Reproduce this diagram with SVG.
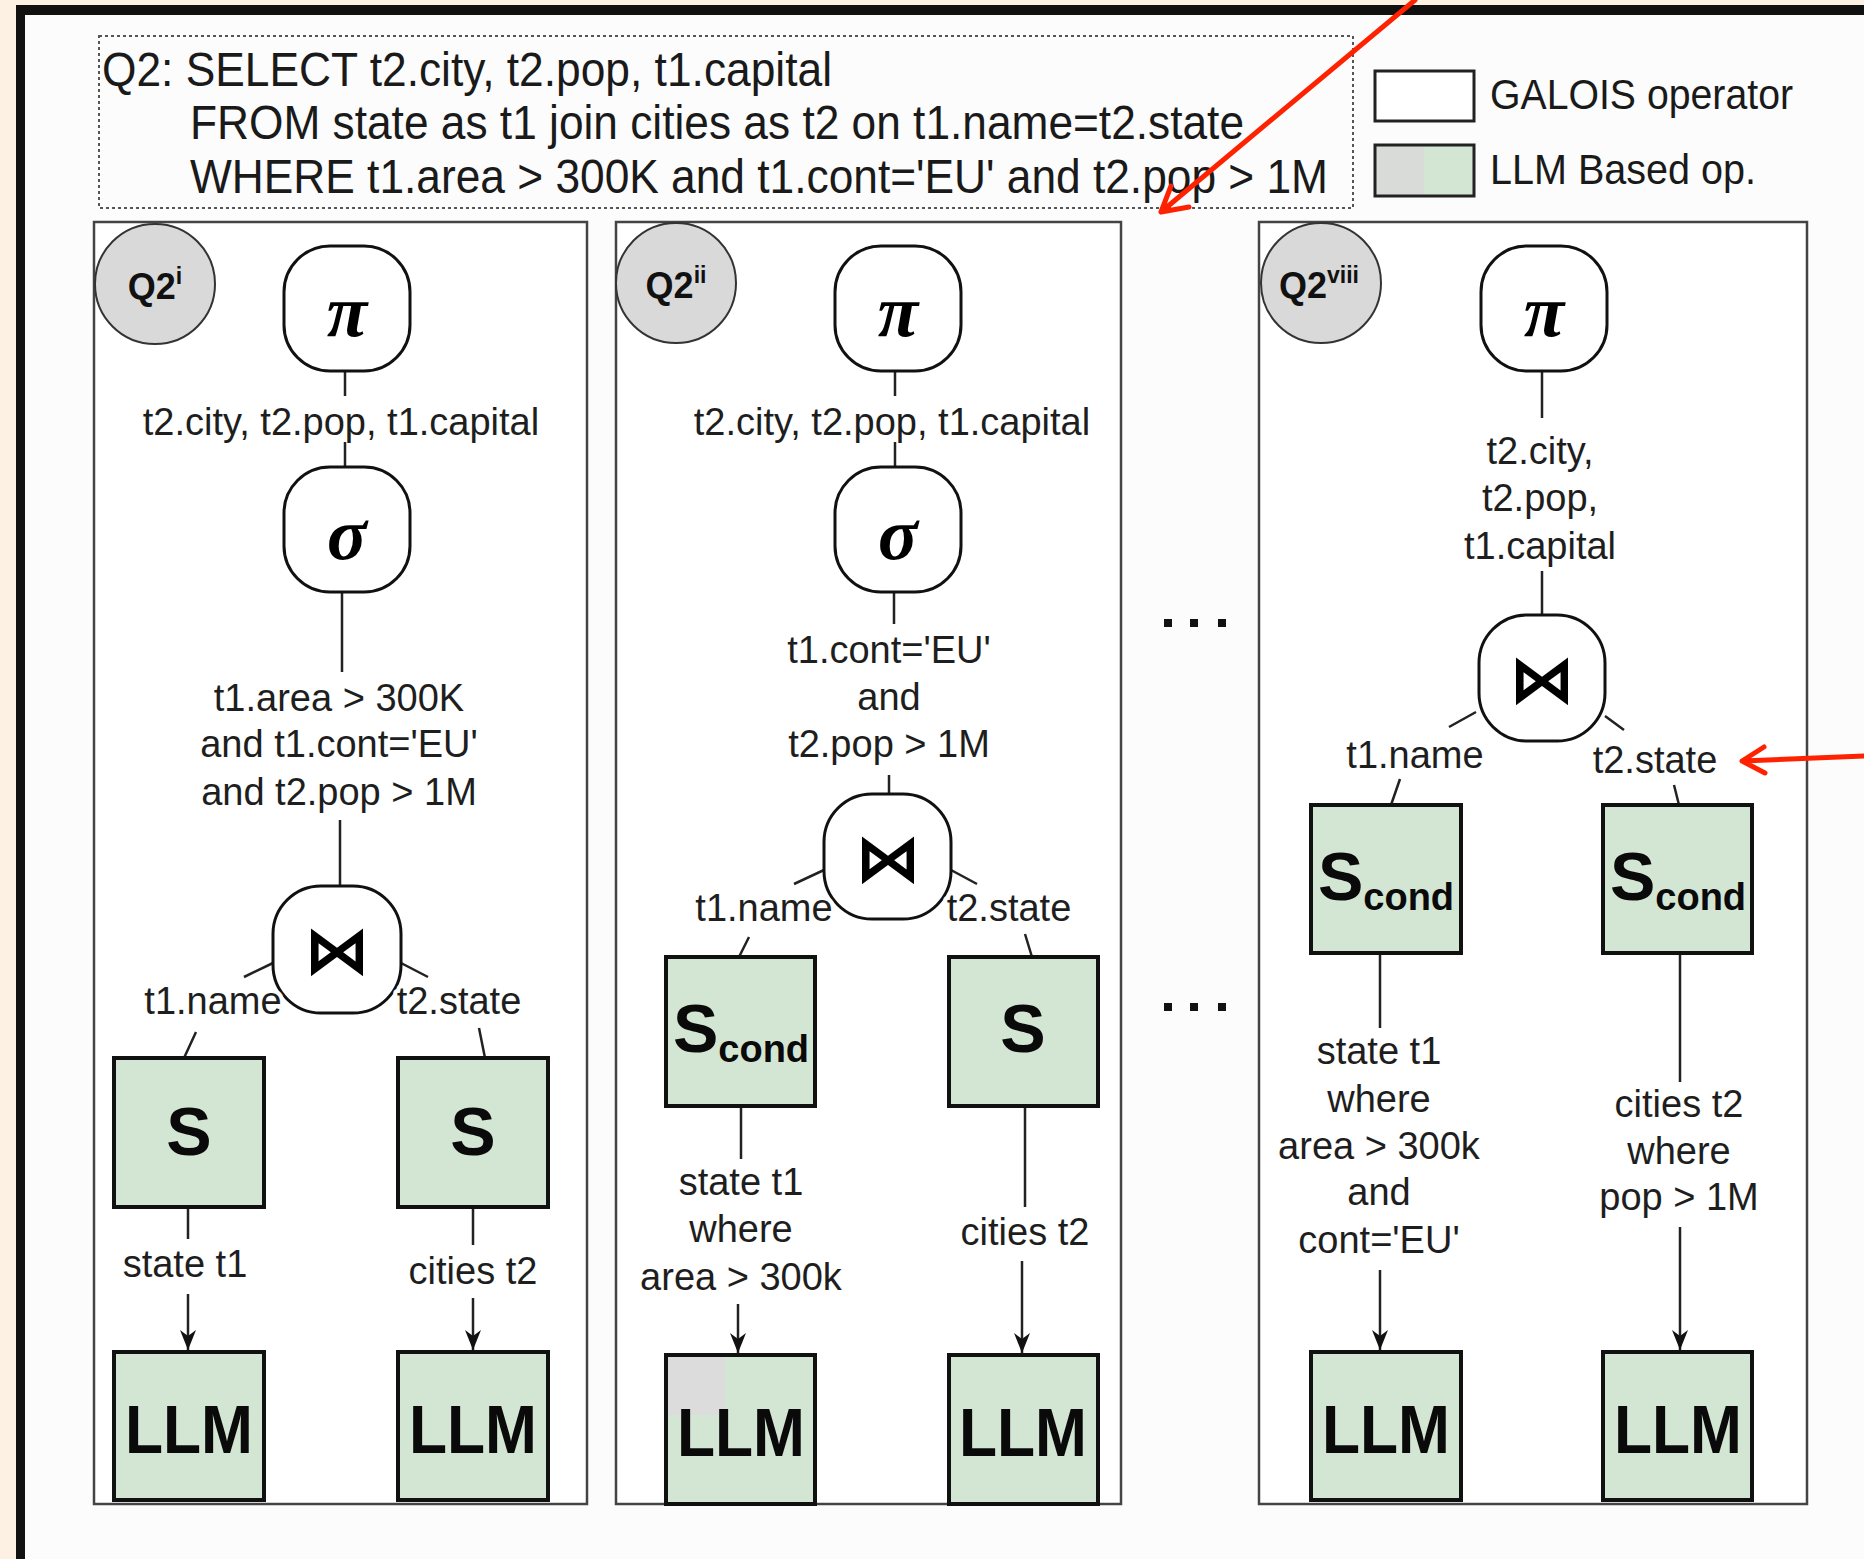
<svg xmlns="http://www.w3.org/2000/svg" width="1864" height="1559" viewBox="0 0 1864 1559">
<defs>
<style>
.lbl{font-family:"Liberation Sans",Arial,sans-serif;font-size:38px;fill:#1e1e1e;text-anchor:middle}
.halo{stroke:#fff;stroke-width:8;paint-order:stroke;stroke-linejoin:round}
.op{fill:#fff;stroke:#111;stroke-width:3}
.llm{fill:#d3e5d3;stroke:#111;stroke-width:4}
.edge{stroke:#222;stroke-width:2.5;fill:none}
.big{font-family:"Liberation Sans",Arial,sans-serif;font-weight:bold;fill:#0a0a0a;text-anchor:middle}
.greek{font-family:"Liberation Serif","DejaVu Serif",serif;font-weight:bold;font-style:italic;font-size:74px;text-anchor:middle;fill:#000}
.join{font-family:"DejaVu Sans",sans-serif;font-weight:bold;font-size:66px;text-anchor:middle;fill:#000}
.panel{fill:#fff;stroke:#444;stroke-width:2.5}
.badge{fill:#d9d9d9;stroke:#333;stroke-width:2}
.bt{font-family:"Liberation Sans",Arial,sans-serif;font-weight:bold;font-size:36px;fill:#111;text-anchor:middle}
.sql{font-family:"Liberation Sans",Arial,sans-serif;font-size:48px;fill:#1a1a1a}
.leg{font-family:"Liberation Sans",Arial,sans-serif;font-size:42px;fill:#1a1a1a}
.red{stroke:#ff2200;stroke-width:5;fill:none;stroke-linecap:round;stroke-linejoin:round}
.dot{fill:#111}
</style>
<marker id="ah" markerUnits="userSpaceOnUse" markerWidth="20" markerHeight="22" refX="9" refY="20" orient="0">
<path d="M1,0 L9,20 L17,0 L9,6 z" fill="#111"/>
</marker>
</defs>

<!-- page background and frame -->
<rect x="0" y="0" width="1864" height="1559" fill="#fcf1e3"/>
<rect x="16" y="5" width="1848" height="1554" fill="#111"/>
<rect x="25" y="15" width="1839" height="1544" fill="#fcfcfc"/>

<!-- query text -->
<g id="query">
<rect x="99" y="36" width="1254" height="172" fill="none" stroke="#555" stroke-width="2" stroke-dasharray="3 3"/>
<text class="sql" x="102" y="86" textLength="730" lengthAdjust="spacingAndGlyphs">Q2: SELECT t2.city, t2.pop, t1.capital</text>
<text class="sql" x="190" y="139" textLength="1054" lengthAdjust="spacingAndGlyphs">FROM state as t1 join cities as t2 on t1.name=t2.state</text>
<text class="sql" x="190" y="193" textLength="1138" lengthAdjust="spacingAndGlyphs">WHERE t1.area &gt; 300K and t1.cont='EU' and t2.pop &gt; 1M</text>
</g>

<!-- legend -->
<g id="legend">
<rect x="1375" y="71" width="99" height="50" fill="#fff" stroke="#222" stroke-width="3"/>
<text class="leg" x="1490" y="109" textLength="303" lengthAdjust="spacingAndGlyphs">GALOIS operator</text>
<rect x="1375" y="145" width="49" height="51" fill="#d9dbd9"/>
<rect x="1424" y="145" width="50" height="51" fill="#d3e6d3"/>
<rect x="1375" y="145" width="99" height="51" fill="none" stroke="#222" stroke-width="3"/>
<text class="leg" x="1490" y="184" textLength="266" lengthAdjust="spacingAndGlyphs">LLM Based op.</text>
</g>

<!-- plan frames -->
<g id="frames">
<rect id="plan-i" class="panel" x="94" y="222" width="493" height="1282"/>
<rect id="plan-ii" class="panel" x="616" y="222" width="505" height="1282"/>
<rect id="plan-viii" class="panel" x="1259" y="222" width="548" height="1282"/>
</g>

<!-- connectors -->
<g id="connectors">
<path class="edge" d="M345,371 V396 M345,442 V467 M342,592 V672 M340,820 V886 M273,963 L244,977 M401,963 L428,977 M196,1032 L184,1058 M479,1028 L485,1058 M188,1207 V1239 M473,1207 V1245"/>
<path class="edge" d="M188,1294 V1350" marker-end="url(#ah)"/>
<path class="edge" d="M473,1298 V1350" marker-end="url(#ah)"/>

<path class="edge" d="M895,371 V396 M895,442 V467 M894,592 V624 M889,775 V794 M824,870 L794,884 M951,870 L977,884 M749,937 L739,957 M1025,934 L1032,957 M741,1106 V1159 M1025,1106 V1207"/>
<path class="edge" d="M738,1304 V1353" marker-end="url(#ah)"/>
<path class="edge" d="M1022,1261 V1353" marker-end="url(#ah)"/>

<path class="edge" d="M1542,371 V418 M1542,571 V615 M1476,712 L1449,727 M1605,716 L1624,730 M1400,779 L1391,805 M1674,785 L1679,805 M1380,953 V1028 M1680,953 V1082"/>
<path class="edge" d="M1380,1270 V1350" marker-end="url(#ah)"/>
<path class="edge" d="M1680,1227 V1350" marker-end="url(#ah)"/>
</g>

<!-- plan i -->
<g id="badge-i"><ellipse class="badge" cx="155" cy="284" rx="60" ry="60"/><text class="bt" x="155" y="299">Q2<tspan font-size="23" dy="-15">i</tspan></text></g>
<g id="proj-i"><rect class="op" x="284" y="246" width="126" height="125" rx="46"/><text class="greek" x="347" y="336">π</text></g>
<text class="lbl" x="341" y="435">t2.city, t2.pop, t1.capital</text>
<g id="sel-i"><rect class="op" x="284" y="467" width="126" height="125" rx="46"/><text class="greek" x="347" y="559">σ</text></g>
<text class="lbl" x="339" y="711">t1.area &gt; 300K</text>
<text class="lbl" x="339" y="757">and t1.cont='EU'</text>
<text class="lbl" x="339" y="805">and t2.pop &gt; 1M</text>
<g id="join-i"><rect class="op" x="273" y="886" width="128" height="127" rx="48"/><text class="join" x="337" y="973">⋈</text></g>
<text class="lbl halo" x="213" y="1014">t1.name</text>
<text class="lbl halo" x="459" y="1014">t2.state</text>
<g id="scan-i-state"><rect class="llm" x="114" y="1058" width="150" height="149"/><text class="big" x="189" y="1155" font-size="68">S</text></g>
<g id="scan-i-cities"><rect class="llm" x="398" y="1058" width="150" height="149"/><text class="big" x="473" y="1155" font-size="68">S</text></g>
<text class="lbl" x="185" y="1277">state t1</text>
<text class="lbl" x="473" y="1284">cities t2</text>
<g id="llm-i-state"><rect class="llm" x="114" y="1352" width="150" height="148"/><text class="big" x="189" y="1453" font-size="68" textLength="128" lengthAdjust="spacingAndGlyphs">LLM</text></g>
<g id="llm-i-cities"><rect class="llm" x="398" y="1352" width="150" height="148"/><text class="big" x="473" y="1453" font-size="68" textLength="128" lengthAdjust="spacingAndGlyphs">LLM</text></g>

<!-- plan ii -->
<g id="badge-ii"><ellipse class="badge" cx="676" cy="283" rx="60" ry="60"/><text class="bt" x="676" y="298">Q2<tspan font-size="23" dy="-15">ii</tspan></text></g>
<g id="proj-ii"><rect class="op" x="835" y="246" width="126" height="125" rx="46"/><text class="greek" x="898" y="336">π</text></g>
<text class="lbl" x="892" y="435">t2.city, t2.pop, t1.capital</text>
<g id="sel-ii"><rect class="op" x="835" y="467" width="126" height="125" rx="46"/><text class="greek" x="898" y="559">σ</text></g>
<text class="lbl" x="889" y="663">t1.cont='EU'</text>
<text class="lbl" x="889" y="710">and</text>
<text class="lbl" x="889" y="757">t2.pop &gt; 1M</text>
<g id="join-ii"><rect class="op" x="824" y="794" width="127" height="125" rx="48"/><text class="join" x="888" y="881">⋈</text></g>
<text class="lbl halo" x="764" y="921">t1.name</text>
<text class="lbl halo" x="1009" y="921">t2.state</text>
<g id="scan-ii-state"><rect class="llm" x="666" y="957" width="149" height="149"/><text class="big" x="741" y="1052"><tspan font-size="68">S</tspan><tspan font-size="38" dy="10">cond</tspan></text></g>
<g id="scan-ii-cities"><rect class="llm" x="949" y="957" width="149" height="149"/><text class="big" x="1023" y="1052" font-size="68">S</text></g>
<text class="lbl" x="741" y="1195">state t1</text>
<text class="lbl" x="741" y="1242">where</text>
<text class="lbl" x="741" y="1290">area &gt; 300k</text>
<text class="lbl" x="1025" y="1245">cities t2</text>
<g id="llm-ii-state"><rect class="llm" x="666" y="1355" width="149" height="149"/><rect x="668" y="1357" width="57" height="58" fill="#dcdcdc"/><text class="big" x="741" y="1456" font-size="68" textLength="128" lengthAdjust="spacingAndGlyphs">LLM</text></g>
<g id="llm-ii-cities"><rect class="llm" x="949" y="1355" width="149" height="149"/><text class="big" x="1023" y="1456" font-size="68" textLength="128" lengthAdjust="spacingAndGlyphs">LLM</text></g>

<!-- elided plans -->
<g id="ellipsis">
<rect class="dot" x="1164" y="619" width="8" height="8"/><rect class="dot" x="1190" y="619" width="8" height="8"/><rect class="dot" x="1218" y="619" width="8" height="8"/>
<rect class="dot" x="1164" y="1003" width="8" height="8"/><rect class="dot" x="1190" y="1003" width="8" height="8"/><rect class="dot" x="1218" y="1003" width="8" height="8"/>
</g>

<!-- plan viii -->
<g id="badge-viii"><ellipse class="badge" cx="1321" cy="283" rx="60" ry="60"/><text class="bt" x="1319" y="298">Q2<tspan font-size="23" dy="-15">viii</tspan></text></g>
<g id="proj-viii"><rect class="op" x="1481" y="246" width="126" height="125" rx="46"/><text class="greek" x="1544" y="336">π</text></g>
<text class="lbl" x="1540" y="464">t2.city,</text>
<text class="lbl" x="1540" y="511">t2.pop,</text>
<text class="lbl" x="1540" y="559">t1.capital</text>
<g id="join-viii"><rect class="op" x="1479" y="615" width="126" height="126" rx="48"/><text class="join" x="1542" y="702">⋈</text></g>
<text class="lbl" x="1415" y="768">t1.name</text>
<text class="lbl" x="1655" y="773">t2.state</text>
<g id="scan-viii-state"><rect class="llm" x="1311" y="805" width="150" height="148"/><text class="big" x="1386" y="900"><tspan font-size="68">S</tspan><tspan font-size="38" dy="10">cond</tspan></text></g>
<g id="scan-viii-cities"><rect class="llm" x="1603" y="805" width="149" height="148"/><text class="big" x="1678" y="900"><tspan font-size="68">S</tspan><tspan font-size="38" dy="10">cond</tspan></text></g>
<text class="lbl" x="1379" y="1064">state t1</text>
<text class="lbl" x="1379" y="1112">where</text>
<text class="lbl" x="1379" y="1159">area &gt; 300k</text>
<text class="lbl" x="1379" y="1205">and</text>
<text class="lbl" x="1379" y="1253">cont='EU'</text>
<text class="lbl" x="1679" y="1117">cities t2</text>
<text class="lbl" x="1679" y="1164">where</text>
<text class="lbl" x="1679" y="1210">pop &gt; 1M</text>
<g id="llm-viii-state"><rect class="llm" x="1311" y="1352" width="150" height="148"/><text class="big" x="1386" y="1453" font-size="68" textLength="128" lengthAdjust="spacingAndGlyphs">LLM</text></g>
<g id="llm-viii-cities"><rect class="llm" x="1603" y="1352" width="149" height="148"/><text class="big" x="1678" y="1453" font-size="68" textLength="128" lengthAdjust="spacingAndGlyphs">LLM</text></g>

<!-- annotation arrows -->
<g id="annotations">
<path class="red" d="M1415,0 L1161,212 M1189,207 L1161,212 L1171,186"/>
<path class="red" d="M1864,756 L1742,761 M1765,773 L1742,761 L1764,747"/>
</g>
</svg>
